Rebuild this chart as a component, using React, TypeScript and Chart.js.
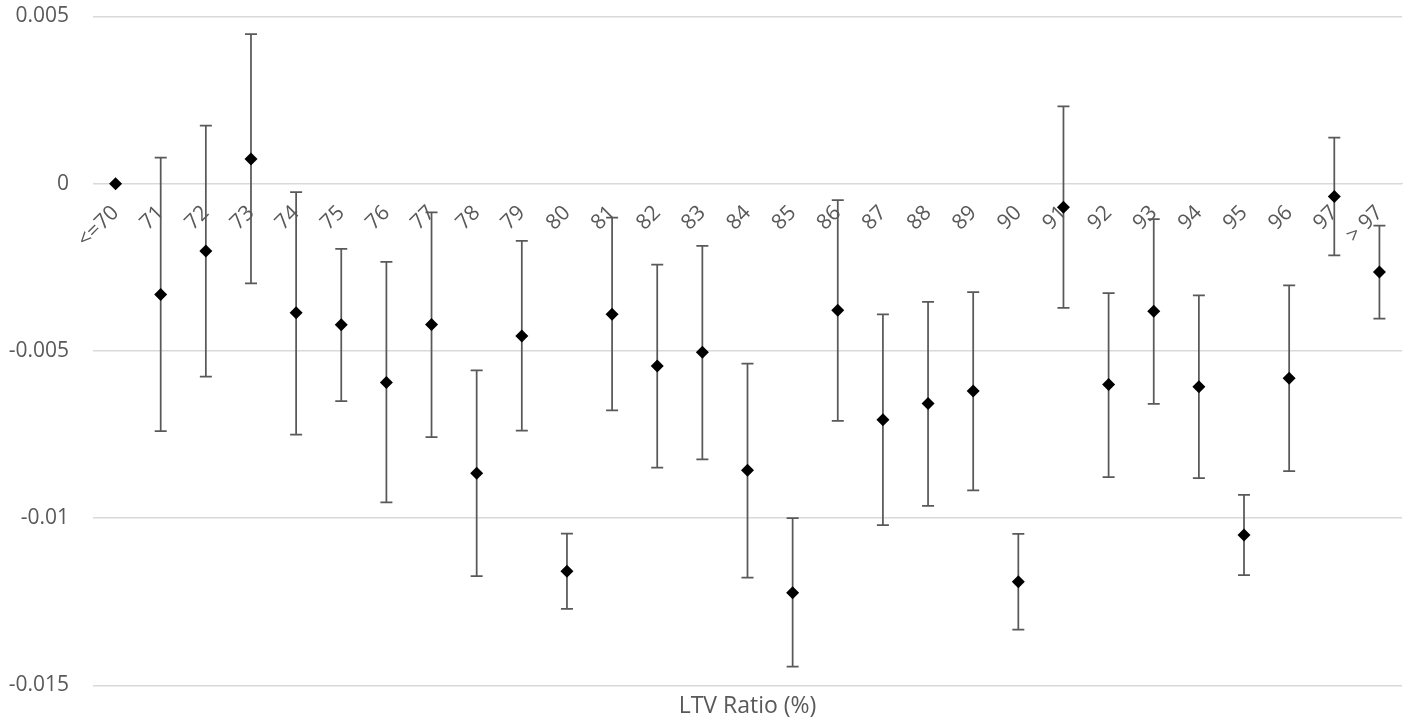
import React, { useEffect, useRef } from "react";
import { Chart, registerables } from "chart.js";

Chart.register(...registerables);

const categories = ["<=70", "71", "72", "73", "74", "75", "76", "77", "78", "79", "80", "81", "82", "83", "84", "85", "86", "87", "88", "89", "90", "91", "92", "93", "94", "95", "96", "97", "> 97"];

const estimates = [0, -0.00331, -0.00201, 0.00074, -0.00386, -0.00422, -0.00594, -0.00421, -0.00866, -0.00455, -0.01159, -0.0039, -0.00545, -0.00504, -0.00857, -0.01223, -0.00378, -0.00706, -0.00657, -0.0062, -0.0119, -0.0007, -0.006, -0.00381, -0.00607, -0.0105, -0.00582, -0.00038, -0.00264];

const upperBounds = [0, 0.00078, 0.00174, 0.00447, -0.00025, -0.00195, -0.00234, -0.00086, -0.00558, -0.00171, -0.01046, -0.00101, -0.00242, -0.00186, -0.00538, -0.01, -0.00049, -0.00391, -0.00353, -0.00324, -0.01047, 0.00231, -0.00327, -0.00106, -0.00334, -0.0093, -0.00304, 0.00138, -0.00125];

const lowerBounds = [0, -0.0074, -0.00577, -0.00298, -0.0075, -0.0065, -0.00953, -0.00758, -0.01173, -0.00738, -0.01271, -0.00678, -0.00849, -0.00824, -0.01178, -0.01444, -0.00709, -0.01021, -0.00963, -0.00917, -0.01333, -0.00371, -0.00877, -0.00658, -0.0088, -0.0117, -0.00859, -0.00214, -0.00403];

const yTicks = [0.005, 0, -0.005, -0.01, -0.015];

const FONT = "'Open Sans', 'DejaVu Sans', sans-serif";
const TEXT = "#595959";
const GRID = "#d9d9d9";

const errorBarPlugin = {
  id: "errorBars",
  beforeDatasetsDraw(chart: any) {
    const ctx = chart.ctx;
    const xs = chart.scales.x;
    const ys = chart.scales.y;
    ctx.save();
    ctx.strokeStyle = "#595959";
    ctx.lineWidth = 1.75;
    const cap = 6;
    categories.forEach((c, i) => {
      if (upperBounds[i] === lowerBounds[i]) return;
      const px = xs.getPixelForValue(i);
      const top = ys.getPixelForValue(upperBounds[i]);
      const bot = ys.getPixelForValue(lowerBounds[i]);
      ctx.beginPath();
      ctx.moveTo(px, top);
      ctx.lineTo(px, bot);
      ctx.moveTo(px - cap, top);
      ctx.lineTo(px + cap, top);
      ctx.moveTo(px - cap, bot);
      ctx.lineTo(px + cap, bot);
      ctx.stroke();
    });
    ctx.restore();
  },
};

export default function App() {
  const ref = useRef<HTMLCanvasElement>(null);
  useEffect(() => {
    if (!ref.current) return;
    const chart = new Chart(ref.current, {
      type: "line",
      data: {
        labels: categories,
        datasets: [
          {
            data: estimates,
            showLine: false,
            pointStyle: "rectRot",
            pointRadius: 6.5,
            pointHoverRadius: 6.5,
            backgroundColor: "#000000",
            borderColor: "#000000",
            borderWidth: 0,
            xAxisID: "x",
            yAxisID: "y",
          },
        ],
      },
      options: {
        responsive: false,
        animation: false,
        layout: { padding: { top: 16.5, right: 8, bottom: 1, left: 0 } },
        plugins: { legend: { display: false }, tooltip: { enabled: false } },
        scales: {
          x: {
            type: "category",
            offset: true,
            position: { y: 0 } as any,
            afterFit: (s: any) => {
              s.paddingLeft = 0;
              s.paddingRight = 0;
              s.paddingTop = 0;
              s.paddingBottom = 0;
            },
            grid: { display: false, drawTicks: false },
            border: { display: true, color: GRID, width: 1 },
            ticks: {
              color: TEXT,
              font: { family: FONT, size: 21 },
              minRotation: 45,
              maxRotation: 45,
              padding: 17,
              autoSkip: false,
            },
          },
          xTitle: {
            type: "category",
            offset: true,
            position: "bottom",
            labels: categories,
            afterFit: (s: any) => {
              s.paddingLeft = 0;
              s.paddingRight = 0;
            },
            grid: { display: false, drawTicks: false },
            border: { display: false },
            ticks: { display: false },
            title: {
              display: true,
              text: "LTV Ratio (%)",
              color: TEXT,
              font: { family: FONT, size: 23 },
              padding: { top: 7, bottom: 2 },
            },
          },
          y: {
            min: -0.015,
            max: 0.005,
            afterFit: (s: any) => {
              s.width = 93;
              s.paddingTop = 0;
              s.paddingBottom = 0;
            },
            afterBuildTicks: (s: any) => {
              s.ticks = yTicks.map((v) => ({ value: v }));
            },
            grid: { color: GRID, lineWidth: 1.5, drawTicks: false },
            border: { display: false },
            ticks: {
              color: TEXT,
              font: { family: FONT, size: 21 },
              padding: 24,
              callback: (v: any) => String(Number(Number(v).toFixed(3))),
            },
          },
        },
      },
      plugins: [errorBarPlugin],
    });
    return () => chart.destroy();
  }, []);
  return (
    <div style={{ position: "fixed", left: 0, top: 0, width: 1410, height: 723, background: "#fff" }}>
      <canvas ref={ref} width={1410} height={723} style={{ display: "block" }} />
    </div>
  );
}
